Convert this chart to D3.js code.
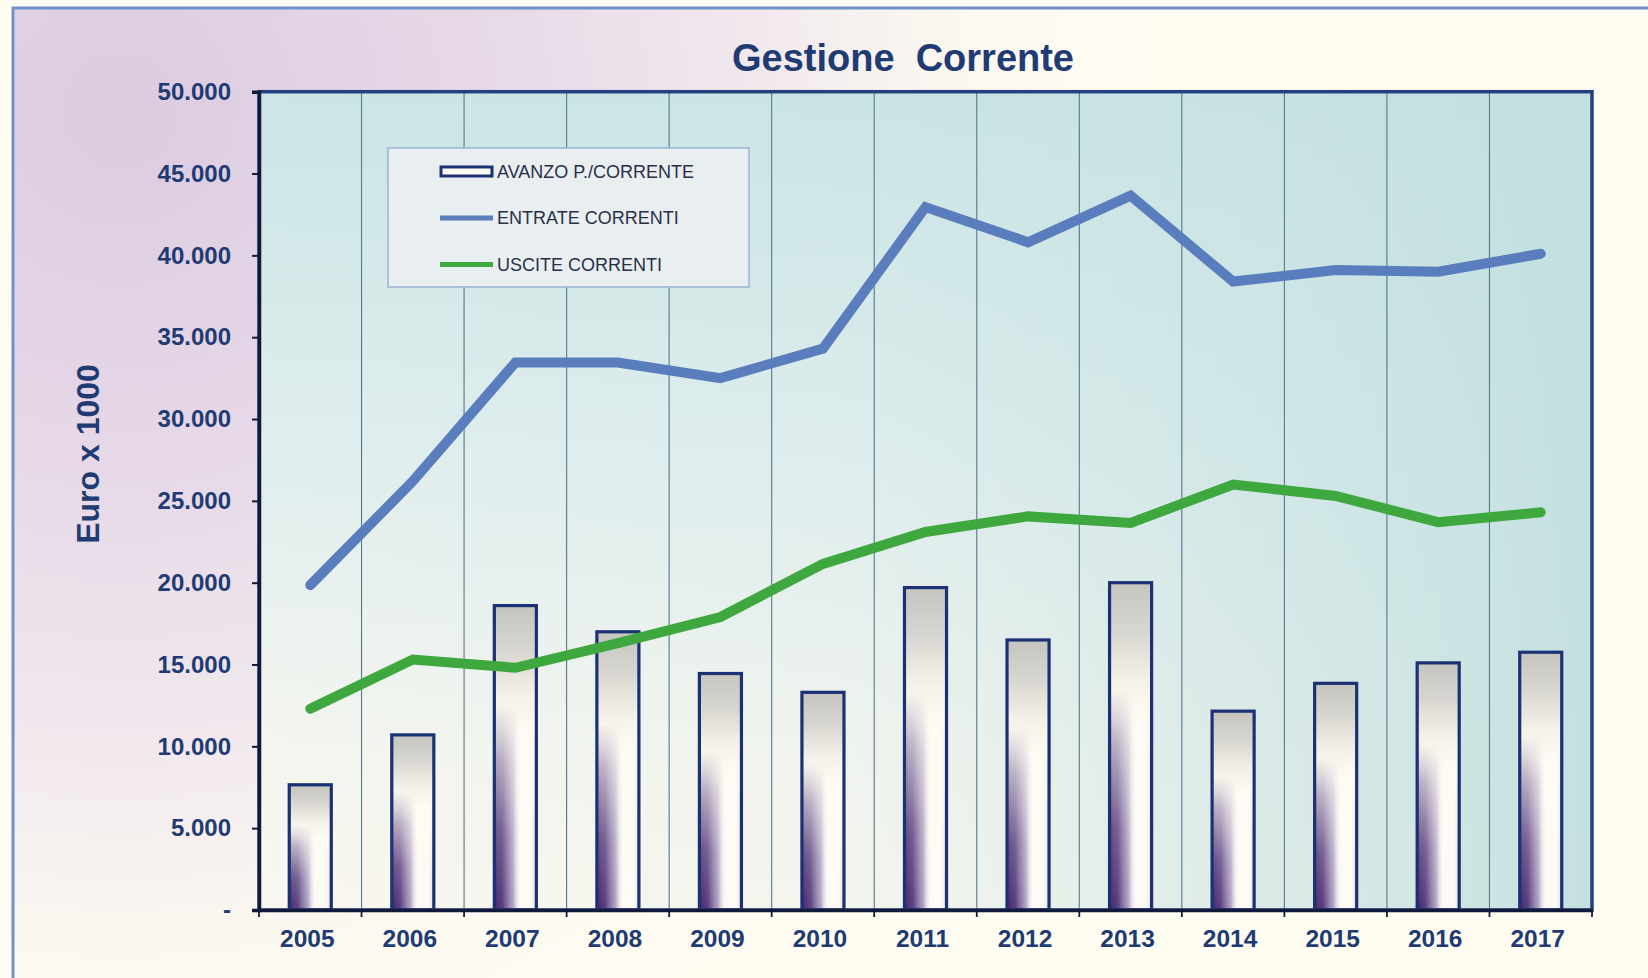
<!DOCTYPE html>
<html><head><meta charset="utf-8">
<script src="https://cdn.jsdelivr.net/npm/d3@7"></script>
<style>
html,body{margin:0;padding:0;background:#fffdf2;overflow:hidden;}
svg{display:block;font-family:"Liberation Sans",Arial,sans-serif;}
</style></head>
<body>
<svg id="chart" width="1648" height="978"></svg>
<script>
// ---- data ----
const years = ["2005","2006","2007","2008","2009","2010","2011","2012","2013","2014","2015","2016","2017"];
const avanzo  = [7650, 10700, 18600, 17000, 14450, 13300, 19700, 16500, 20000, 12150, 13850, 15100, 15750];
const entrate = [19850, 26200, 33450, 33450, 32500, 34300, 42950, 40800, 43650, 38400, 39100, 39000, 40100];
const uscite  = [12300, 15300, 14800, 16300, 17900, 21150, 23100, 24050, 23650, 26000, 25300, 23700, 24300];
const yTicks = [0, 5000, 10000, 15000, 20000, 25000, 30000, 35000, 40000, 45000, 50000];
const seriesNames = ["AVANZO P./CORRENTE", "ENTRATE CORRENTI", "USCITE CORRENTI"];
const titleText = "Gestione  Corrente";
const yTitle = "Euro x 1000";

// ---- layout ----
const W = 1648, H = 978;
const L = 259, R = 1592, T = 91.7, B = 910;
const navy = "#1f3b73";
const svg = d3.select("#chart");
const defs = svg.append("defs");

// panel background gradient
const pg = defs.append("radialGradient").attr("id","panelBg")
  .attr("gradientUnits","userSpaceOnUse").attr("cx",120).attr("cy",110).attr("r",1050);
[[0,"#dccbe1"],[0.35,"#e7d9e8"],[0.6,"#f1e8ee"],[0.8,"#fcf8f0"],[1,"#fffdf2"]]
  .forEach(([o,c])=>pg.append("stop").attr("offset",o).attr("stop-color",c));

// plot background gradients
const vg = defs.append("linearGradient").attr("id","plotV").attr("x1",0).attr("y1",0).attr("x2",0).attr("y2",1);
[[0,"#cbe4e5"],[0.45,"#e0eeee"],[0.8,"#f4f5ef"],[1,"#f9f7ef"]]
  .forEach(([o,c])=>vg.append("stop").attr("offset",o).attr("stop-color",c));
const hg = defs.append("linearGradient").attr("id","plotH").attr("x1",0).attr("y1",0).attr("x2",1).attr("y2",0);
[[0,"#c6e1e1",0],[0.45,"#c6e1e1",0.1],[0.75,"#c6e1e1",0.55],[1,"#c3dfe0",0.95]]
  .forEach(([o,c,a])=>hg.append("stop").attr("offset",o).attr("stop-color",c).attr("stop-opacity",a));

// bar gradients
const bv = defs.append("linearGradient").attr("id","barV").attr("x1",0).attr("y1",0).attr("x2",0).attr("y2",1);
[[0,"#c6c4be"],[0.15,"#d8d6d0"],[0.3,"#f4f2e8"],[0.42,"#fdfbf3"],[1,"#fdfbf4"]]
  .forEach(([o,c])=>bv.append("stop").attr("offset",o).attr("stop-color",c));
const bh = defs.append("linearGradient").attr("id","barH").attr("x1",0).attr("y1",0).attr("x2",1).attr("y2",0);
[[0,"#44276a",1],[0.2,"#5a3f80",1],[0.45,"#a08fba",0.8],[0.64,"#ffffff",0],[0.85,"#ffffff",0],[1,"#b0a3c0",0.5]]
  .forEach(([o,c,a])=>bh.append("stop").attr("offset",o).attr("stop-color",c).attr("stop-opacity",a));
const mg = defs.append("linearGradient").attr("id","barMaskG").attr("x1",0).attr("y1",0).attr("x2",0).attr("y2",1);
[[0,"#000"],[0.33,"#000"],[0.5,"#666"],[0.75,"#d0d0d0"],[1,"#fff"]]
  .forEach(([o,c])=>mg.append("stop").attr("offset",o).attr("stop-color",c));
defs.append("mask").attr("id","barMask").attr("maskContentUnits","objectBoundingBox")
  .append("rect").attr("x",0).attr("y",0).attr("width",1).attr("height",1).attr("fill","url(#barMaskG)");

// page + panel
svg.append("rect").attr("width",W).attr("height",H).attr("fill","#fffdf2");
svg.append("rect").attr("x",13).attr("y",8).attr("width",W+20).attr("height",H+20)
  .attr("fill","url(#panelBg)").attr("stroke","#6f93c8").attr("stroke-width",3);

// scales
const x = d3.scaleBand().domain(years).range([L,R]).padding(0);
const y = d3.scaleLinear().domain([0,50000]).range([B,T]);
const barW = x.bandwidth()*0.41;

// plot background
svg.append("rect").attr("x",L).attr("y",T).attr("width",R-L).attr("height",B-T).attr("fill","url(#plotV)");
svg.append("rect").attr("x",L).attr("y",T).attr("width",R-L).attr("height",B-T).attr("fill","url(#plotH)");

// vertical gridlines at category boundaries
svg.append("g").selectAll("line").data(years.slice(1)).join("line")
  .attr("x1",d=>x(d)).attr("x2",d=>x(d)).attr("y1",T).attr("y2",B)
  .attr("stroke","#55788c").attr("stroke-width",1.1);

// bars
const bars = svg.append("g");
const bdata = years.map((yr,i)=>({yr,v:avanzo[i]}));
bars.selectAll("rect.base").data(bdata).join("rect").attr("class","base")
  .attr("x",d=>x(d.yr)+x.bandwidth()/2-barW/2).attr("width",barW)
  .attr("y",d=>y(d.v)).attr("height",d=>B-y(d.v)).attr("fill","url(#barV)");
bars.selectAll("rect.shade").data(bdata).join("rect").attr("class","shade")
  .attr("x",d=>x(d.yr)+x.bandwidth()/2-barW/2).attr("width",barW)
  .attr("y",d=>y(d.v)).attr("height",d=>B-y(d.v)).attr("fill","url(#barH)").attr("mask","url(#barMask)");
bars.selectAll("rect.outline").data(bdata).join("rect").attr("class","outline")
  .attr("x",d=>x(d.yr)+x.bandwidth()/2-barW/2).attr("width",barW)
  .attr("y",d=>y(d.v)).attr("height",d=>B-y(d.v)).attr("fill","none")
  .attr("stroke","#1b3175").attr("stroke-width",3.2);

// lines
const line = d3.line().x((d,i)=>x(years[i])+x.bandwidth()/2).y(d=>y(d));
svg.append("path").datum(uscite).attr("d",line).attr("fill","none")
  .attr("stroke","#3ea83f").attr("stroke-width",10).attr("stroke-linecap","round").attr("stroke-linejoin","miter");
svg.append("path").datum(entrate).attr("d",line).attr("fill","none")
  .attr("stroke","#5a7ebd").attr("stroke-width",10).attr("stroke-linecap","round").attr("stroke-linejoin","miter");

// plot border
svg.append("rect").attr("x",L).attr("y",T).attr("width",R-L).attr("height",B-T)
  .attr("fill","none").attr("stroke","#24407e").attr("stroke-width",3.5);

// axes
const loc = d3.formatLocale({decimal:",",thousands:".",grouping:[3],currency:["€",""]});
const fmt = loc.format(",.0f");
const yAxis = svg.append("g").attr("transform",`translate(${L},0)`)
  .call(d3.axisLeft(y).tickValues(yTicks).tickSize(7).tickPadding(21).tickFormat(d=>d===0?"-":fmt(d)));
yAxis.select(".domain").attr("stroke","#111a3a").attr("stroke-width",3.5);
yAxis.selectAll(".tick line").attr("stroke","#111a3a").attr("stroke-width",2);
yAxis.selectAll(".tick text").attr("fill",navy).attr("font-size",24).attr("font-weight","bold")
  .attr("font-family","'Liberation Sans',Arial,sans-serif");

const xAxis = svg.append("g").attr("transform",`translate(0,${B})`)
  .call(d3.axisBottom(x).tickSize(0).tickPadding(20));
xAxis.select(".domain").attr("stroke","#111a3a").attr("stroke-width",3.5);
xAxis.selectAll(".tick text").attr("fill",navy).attr("font-size",24.5).attr("font-weight","bold")
  .attr("dx",-3).attr("font-family","'Liberation Sans',Arial,sans-serif");
// boundary tick marks below axis
svg.append("g").selectAll("line").data(years.concat(["end"])).join("line")
  .attr("x1",d=>d==="end"?R:x(d)).attr("x2",d=>d==="end"?R:x(d))
  .attr("y1",B).attr("y2",B+7).attr("stroke","#111a3a").attr("stroke-width",1.8);

// titles
svg.append("text").attr("x",903).attr("y",71).attr("text-anchor","middle")
  .attr("font-size",39).attr("font-weight","bold").attr("fill",navy)
  .attr("textLength",342).attr("lengthAdjust","spacingAndGlyphs")
  .style("white-space","pre").text(titleText);
svg.append("text").attr("transform","translate(99,454) rotate(-90)").attr("text-anchor","middle")
  .attr("font-size",32).attr("font-weight","bold").attr("fill",navy).text(yTitle);

// legend
const lg = svg.append("g");
lg.append("rect").attr("x",388).attr("y",148).attr("width",361).attr("height",139)
  .attr("fill","#e9eff1").attr("stroke","#9ab3d3").attr("stroke-width",1.5);
const rows = [171.5, 218, 264.5];
lg.append("rect").attr("x",441).attr("y",rows[0]-4.5).attr("width",51).attr("height",9)
  .attr("fill","#fdfcf6").attr("stroke","#1b3175").attr("stroke-width",3);
lg.append("line").attr("x1",440).attr("x2",493).attr("y1",rows[1]).attr("y2",rows[1])
  .attr("stroke","#5a7ebd").attr("stroke-width",5);
lg.append("line").attr("x1",440).attr("x2",493).attr("y1",rows[2]).attr("y2",rows[2])
  .attr("stroke","#3ea83f").attr("stroke-width",5);
lg.selectAll("text").data(seriesNames).join("text")
  .attr("x",497).attr("y",(d,i)=>rows[i]).attr("dy","0.36em")
  .attr("font-size",18).attr("fill","#2a2f48").text(d=>d);
</script>
</body></html>
